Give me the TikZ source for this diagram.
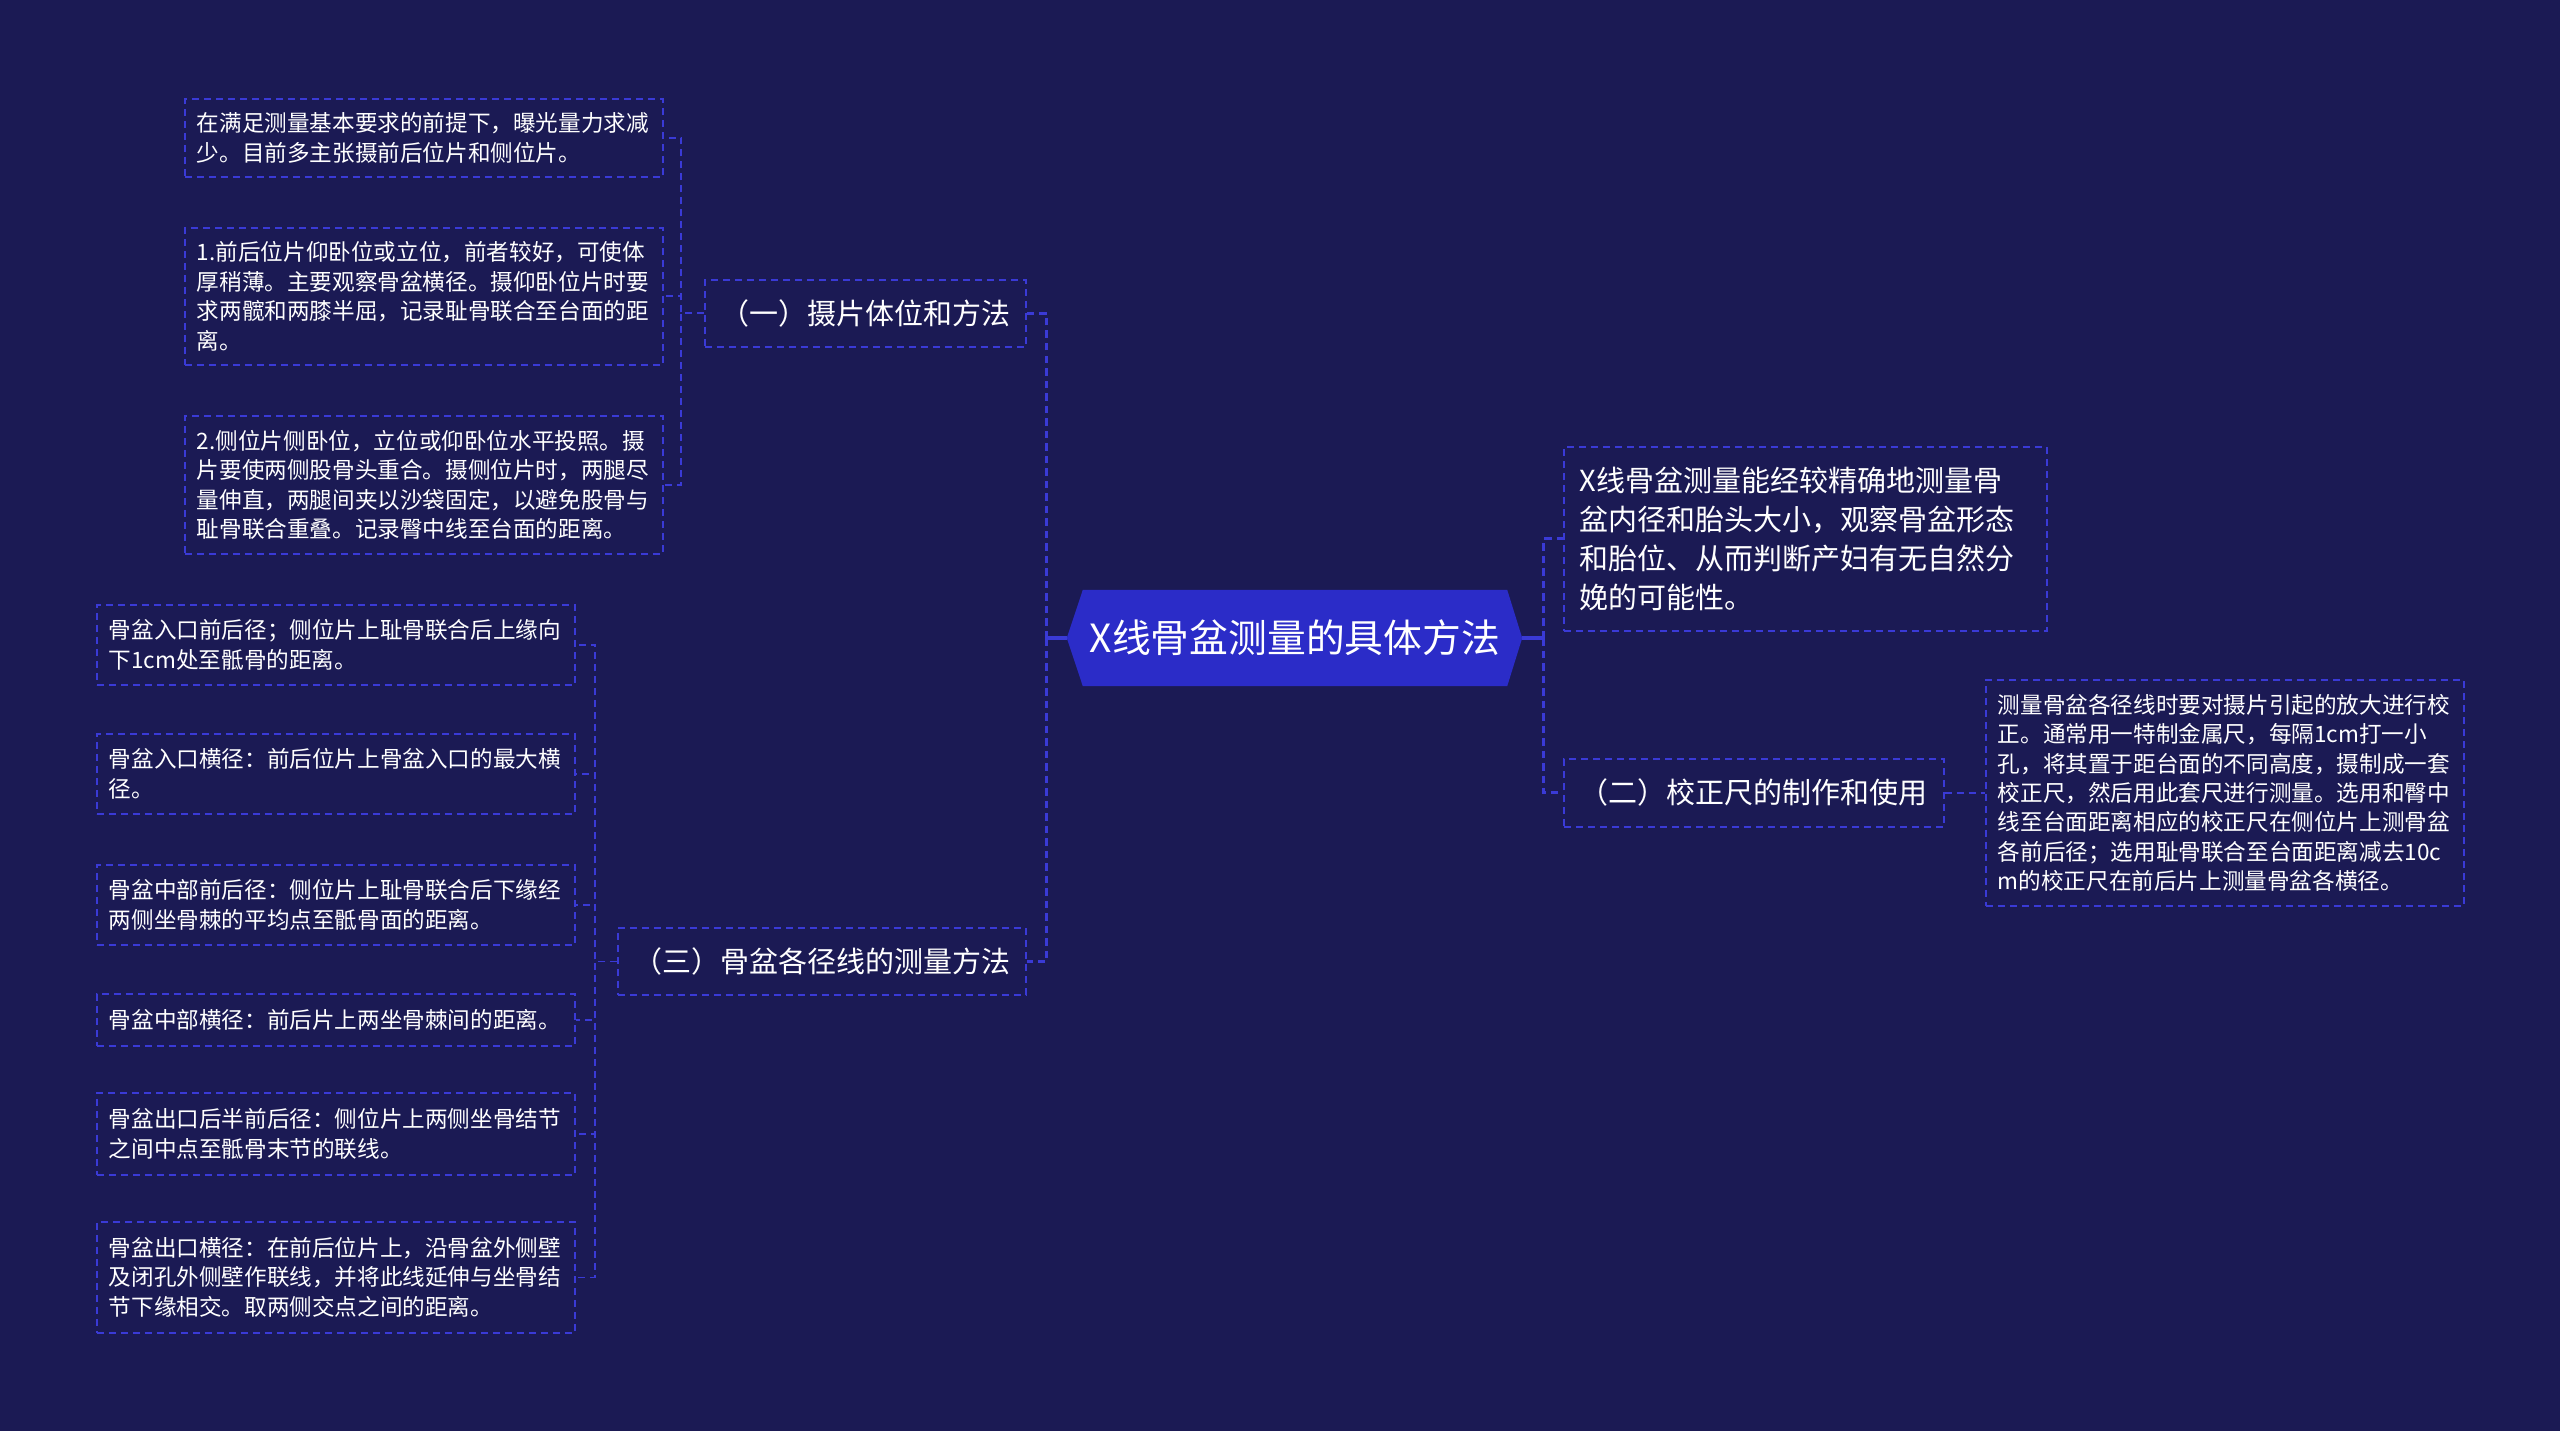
\documentclass[tikz,border=0pt]{standalone}
\usepackage{fontspec}
\setmainfont{Noto Sans CJK SC}
\usetikzlibrary{backgrounds}
\definecolor{bg}{RGB}{27,26,84}
\definecolor{ln}{RGB}{58,58,214}
\definecolor{cfill}{RGB}{43,44,200}
\tikzset{
  box/.style={draw=ln, line width=1.6pt, dash pattern=on 7pt off 5pt, text=white, anchor=north west, inner sep=0pt},
  leaf/.style={box, align=left, text width=454pt, inner xsep=12pt, font=\fontsize{22.6}{29.4}\selectfont},
  mid/.style={box, align=center, minimum height=67pt, font=\fontsize{29}{35}\selectfont},
  big/.style={box, align=left, text width=451pt, inner xsep=16pt, minimum height=184pt, font=\fontsize{29}{39}\selectfont},
  conn/.style={draw=ln, line width=1.6pt, dash pattern=on 7pt off 5pt},
  mainconn/.style={draw=ln, line width=3.2pt, dash pattern=on 7.5pt off 5pt},
  stub/.style={draw=ln, line width=3.2pt},
}
\begin{document}
\begin{tikzpicture}[x=1pt, y=-1pt]
\useasboundingbox (0,0) rectangle (2560,1431);
% center
\node[text=white, minimum width=424pt, minimum height=96pt, inner sep=0pt, font=\fontsize{38.8}{46}\selectfont] (c) at (1295,638) {X线骨盆测量的具体方法};
\coordinate (cL) at ([xshift=-16pt]c.west);
\coordinate (cR) at ([xshift=15pt]c.east);
\coordinate (tL) at ([xshift=-20pt]cL);
\coordinate (tR) at ([xshift=21pt]cR);
\begin{scope}[on background layer]
  \fill[bg] (0,0) rectangle (2560,1431);
  \fill[cfill] (c.north west) -- (c.north east) -- (cR) -- (c.south east) -- (c.south west) -- (cL) -- cycle;
\end{scope}
% level 1
\node[mid, minimum width=321pt] (g1) at (704,279) {（一）摄片体位和方法};
\node[mid, minimum width=408pt] (g3) at (617,927) {（三）骨盆各径线的测量方法};
\node[mid, minimum width=380pt, minimum height=68pt] (g2) at (1563,758) {（二）校正尺的制作和使用};
\node[big] (r1) at (1563,446) {X线骨盆测量能经较精确地测量骨\\盆内径和胎头大小，观察骨盆形态\\和胎位、从而判断产妇有无自然分\\娩的可能性。};
% leaves of g1
\node[leaf, minimum height=78pt] (a1) at (184,98) {在满足测量基本要求的前提下，曝光量力求减\\少。目前多主张摄前后位片和侧位片。};
\node[leaf, minimum height=137pt] (a2) at (184,227) {1.前后位片仰卧位或立位，前者较好，可使体\\厚稍薄。主要观察骨盆横径。摄仰卧位片时要\\求两髋和两膝半屈，记录耻骨联合至台面的距\\离。};
\node[leaf, minimum height=138pt] (a3) at (184,415) {2.侧位片侧卧位，立位或仰卧位水平投照。摄\\片要使两侧股骨头重合。摄侧位片时，两腿尽\\量伸直，两腿间夹以沙袋固定，以避免股骨与\\耻骨联合重叠。记录臀中线至台面的距离。};
% leaves of g3
\node[leaf, minimum height=80pt] (b1) at (96,604) {骨盆入口前后径；侧位片上耻骨联合后上缘向\\下1cm处至骶骨的距离。};
\node[leaf, minimum height=80pt] (b2) at (96,733) {骨盆入口横径：前后位片上骨盆入口的最大横\\径。};
\node[leaf, minimum height=80pt] (b3) at (96,864) {骨盆中部前后径：侧位片上耻骨联合后下缘经\\两侧坐骨棘的平均点至骶骨面的距离。};
\node[leaf, minimum height=52pt] (b4) at (96,993) {骨盆中部横径：前后片上两坐骨棘间的距离。};
\node[leaf, minimum height=82pt] (b5) at (96,1092) {骨盆出口后半前后径：侧位片上两侧坐骨结节\\之间中点至骶骨末节的联线。};
\node[leaf, minimum height=111pt] (b6) at (96,1221) {骨盆出口横径：在前后位片上，沿骨盆外侧壁\\及闭孔外侧壁作联线，并将此线延伸与坐骨结\\节下缘相交。取两侧交点之间的距离。};
% leaf of g2
\node[leaf, minimum height=226pt] (d1) at (1985,679) {测量骨盆各径线时要对摄片引起的放大进行校\\正。通常用一特制金属尺，每隔1cm打一小\\孔，将其置于距台面的不同高度，摄制成一套\\校正尺，然后用此套尺进行测量。选用和臀中\\线至台面距离相应的校正尺在侧位片上测骨盆\\各前后径；选用耻骨联合至台面距离减去10c\\m的校正尺在前后片上测量骨盆各横径。};
% connectors
\draw[stub] (cL) -- (tL);
\draw[stub] (cR) -- (tR);
\draw[mainconn] (tL) |- (g1.east);
\draw[mainconn] (tL) |- (g3.east);
\draw[mainconn] (tR) |- (r1.west);
\draw[mainconn] (tR) |- (g2.west);
\draw[conn] (g2.east) -- (d1.west);
\foreach \t in {a1,a2,a3} \draw[conn] (g1.west) -- ++(-23,0) |- (\t.east);
\foreach \t in {b1,b2,b3,b4,b5,b6} \draw[conn] (g3.west) -- ++(-22,0) |- (\t.east);
\end{tikzpicture}
\end{document}
